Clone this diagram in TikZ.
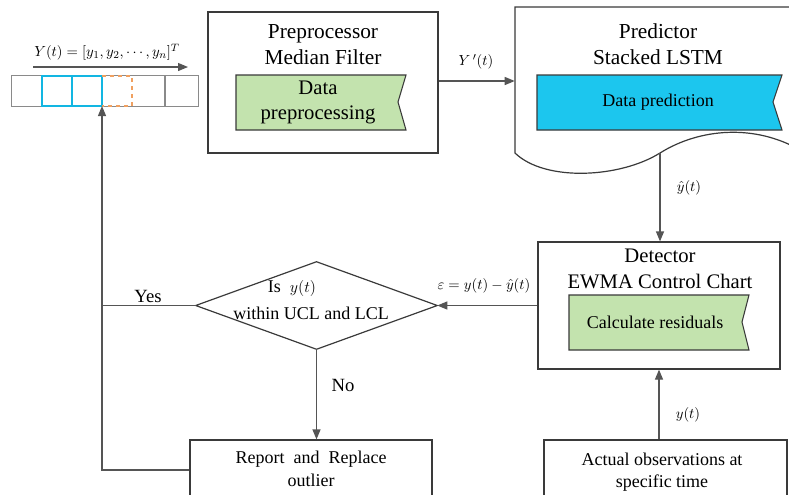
\documentclass[tikz,border=0pt]{standalone}
\usepackage{fontspec}
\setmainfont{Liberation Serif}
\usetikzlibrary{arrows.meta,fit}
\definecolor{boxc}{HTML}{3A3A3A}
\definecolor{linec}{HTML}{555555}
\definecolor{greenf}{HTML}{C3E3AE}
\definecolor{cyanf}{HTML}{1CC6EE}
\definecolor{cyanl}{HTML}{12B6E2}
\definecolor{orangel}{HTML}{F0A060}
\definecolor{grayl}{HTML}{8A8A8A}
\begin{document}
\begin{tikzpicture}[x=0.75pt,y=-0.75pt,
  box/.style={draw=boxc, line width=0.9pt, inner sep=0pt, fill=white},
  ghost/.style={inner sep=0pt},
  conn/.style={draw=linec, line width=0.9pt},
  arr/.style={conn, -{Triangle[length=7.5pt,width=6pt]}},
  flagp/.style={draw=boxc, line width=0.8pt},
  big/.style={font=\fontsize{16}{19.5}\selectfont, align=center, inner sep=0pt},
  mid/.style={font=\fontsize{13.5}{17}\selectfont, align=center, inner sep=0pt},
  lbl/.style={font=\fontsize{11}{13}\selectfont, inner sep=0pt},
  yn/.style={font=\fontsize{14}{17}\selectfont, inner sep=0pt}]
\useasboundingbox (0,0) rectangle (789,494);
\clip (0,0) rectangle (789,494);

% ---------- array ----------
\node[ghost, fit={(12,76) (198,106)}] (arr) {};
\draw[grayl, line width=0.9pt] (arr.north west) rectangle (arr.south east);
\draw[grayl, line width=0.9pt] (165,76) -- (165,106);
\draw[cyanl, line width=1.2pt] (42,76) rectangle (102,106);
\draw[cyanl, line width=1.2pt] (72,76) -- (72,106);
\draw[orangel, line width=1.2pt, dashed] (102,76) -- (132,76) -- (132,106) -- (102,106);
\coordinate (c3) at (102,106);
\coordinate (ya) at (33,67);
\coordinate (yb) at (188,67);
\draw[arr] (ya) -- (yb);
\node[lbl] (ylab) at (107,52) {$Y(t)=[y_1,y_2,\cdots,y_n]^T$};

% ---------- preprocessor ----------
\node[box, fit={(208,12) (438,153)}] (pre) {};
\node[big] (pret) at (323,45) {Preprocessor\\Median Filter};
\draw[flagp, fill=greenf] (236,75) -- (406,75) -- (398,102) -- (406,130) -- (236,130) -- cycle;
\node[big, font=\fontsize{15.5}{19}\selectfont] (pref) at (318,102.5) {Data\\preprocessing};

% ---------- predictor ----------
\node[ghost, fit={(515,7) (789,153)}] (pred) {};
\coordinate (wv) at (660,153);
\draw[boxc, line width=0.9pt, fill=white] (800,7) -- (515,7) -- (515,153)
  .. controls (545,182) and (620,178) .. (wv)
  .. controls (700,128) and (755,124) .. (800,150);
\node[big] (predt) at (658,44) {Predictor\\Stacked LSTM};
\draw[flagp, fill=cyanf] (537,75) -- (782,75) -- (773,102) -- (782,130) -- (537,130) -- cycle;
\node[mid] (predf) at (658,102) {Data prediction};

\draw[arr] (pre.east |- 0,81) -- (pred.west |- 0,81);
\node[lbl] (yplab) at (476,62) {$Y\,'(t)$};

% ---------- detector ----------
\node[box, fit={(538,242) (780,369)}] (det) {};
\node[big, font=\fontsize{15.5}{19}\selectfont] (dett) at (660,269) {Detector\\EWMA Control Chart};
\draw[flagp, fill=greenf] (569,295) -- (749,295) -- (742,322) -- (749,350) -- (569,350) -- cycle;
\node[mid] (detf) at (655,322) {Calculate residuals};

\draw[arr] (wv) -- (det.north -| wv);
\node[lbl] (yhlab) at (689,188) {$\hat{y}(t)$};

% ---------- diamond ----------
\node[ghost, fit={(196,262) (437,349)}] (dia) {};
\draw[boxc, line width=0.9pt] (dia.west) -- (dia.north) -- (dia.east) -- (dia.south) -- cycle;
\node[mid] (diat1) at (292,288) {Is\ \ {\fontsize{12.5}{15}\selectfont$y(t)$}};
\node[mid] (diat2) at (311,313) {within UCL and LCL};

\draw[arr] (dia.east -| det.west) -- (dia.east);
\node[lbl] (elab) at (484,286) {$\varepsilon=y(t)-\hat{y}(t)$};

% ---------- report ----------
\node[box, fit={(190,440) (432,500)}] (rep) {};
\node[mid] (rept) at (311,469) {Report\ \ and\ \ Replace\\outlier};
\draw[arr] (dia.south) -- (dia.south |- rep.north);
\node[yn] (nolab) at (343,385) {No};

% ---------- actual ----------
\node[box, fit={(544,440) (787,500)}] (act) {};
\node[mid] (actt) at (662,472) {Actual observations at\\specific time};
\draw[arr] (det.south |- act.north) -- (det.south);
\node[lbl] (ytlab) at (688,415) {$y(t)$};

% ---------- feedback ----------
\draw[arr] (rep.west) -- (rep.west -| c3) -- (c3);
\draw[conn] (dia.west) -- (dia.west -| c3);
\node[yn] (yeslab) at (148,296) {Yes};
\end{tikzpicture}
\end{document}
